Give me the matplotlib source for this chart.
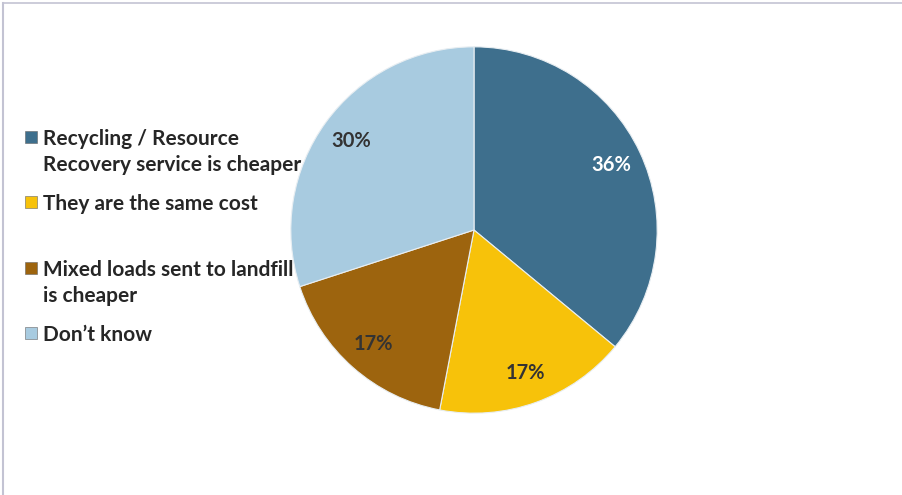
import matplotlib
matplotlib.use("Agg")
import matplotlib.pyplot as plt
from matplotlib.patches import Rectangle
from matplotlib.lines import Line2D

# survey answers, clockwise from 12 o'clock
categories = [
    "Recycling / Resource\nRecovery service is cheaper",
    "They are the same cost",
    "Mixed loads sent to landfill\nis cheaper",
    "Don\u2019t know",
]
shares = [36, 17, 17, 30]
colors = ["#3e6f8d", "#f7c20a", "#9d640e", "#a8cbe0"]
label_colors = ["#ffffff", "#333333", "#333333", "#333333"]

plt.rcParams["font.family"] = ["Lato", "DejaVu Sans"]

W, H = 903, 495
fig = plt.figure(figsize=(W / 100, H / 100), dpi=100)
fig.patch.set_facecolor("white")

# pie centred at (474, 230) px, radius ~185 px
cx, cy, r = 474, 230, 185
ax = fig.add_axes([(cx - r) / W, (H - cy - r) / H, 2 * r / W, 2 * r / H])
wedges, texts = ax.pie(
    shares,
    colors=colors,
    startangle=90,
    counterclock=False,
    labels=[f"{v}%" for v in shares],
    labeldistance=0.83,
    wedgeprops=dict(edgecolor="#e8eef2", linewidth=0.8),
    textprops=dict(fontsize=14.5, fontweight="bold"),
)
for t, c in zip(texts, label_colors):
    t.set_color(c)
    t.set_horizontalalignment("center")
    t.set_verticalalignment("center")
ax.set_xlim(-1.01, 1.01)
ax.set_ylim(-1.01, 1.01)
ax.set_aspect("equal")
ax.axis("off")

# legend on the left, entries placed by hand
legend_y = [137, 202, 268, 333]
for lab, col, y in zip(categories, colors, legend_y):
    fig.patches.append(Rectangle((25 / W, (H - y - 6) / H), 12 / W, 12 / H,
                                 transform=fig.transFigure, facecolor=col,
                                 edgecolor="#666666", linewidth=0.4))
    fig.text(43 / W, (H - y + 8) / H, lab, fontsize=15, fontweight="bold",
             color="#262626", va="top", ha="left", linespacing=1.38)

# thin chart-area border
border = "#c3c3d3"
fig.lines.append(Line2D([3.5 / W, 3.5 / W], [0, 1 - 2.5 / H], transform=fig.transFigure,
                        color=border, linewidth=1.5))
fig.lines.append(Line2D([3.5 / W, 1], [1 - 2.5 / H, 1 - 2.5 / H], transform=fig.transFigure,
                        color=border, linewidth=1.2))

fig.savefig("out.png", dpi=100, facecolor="white")
